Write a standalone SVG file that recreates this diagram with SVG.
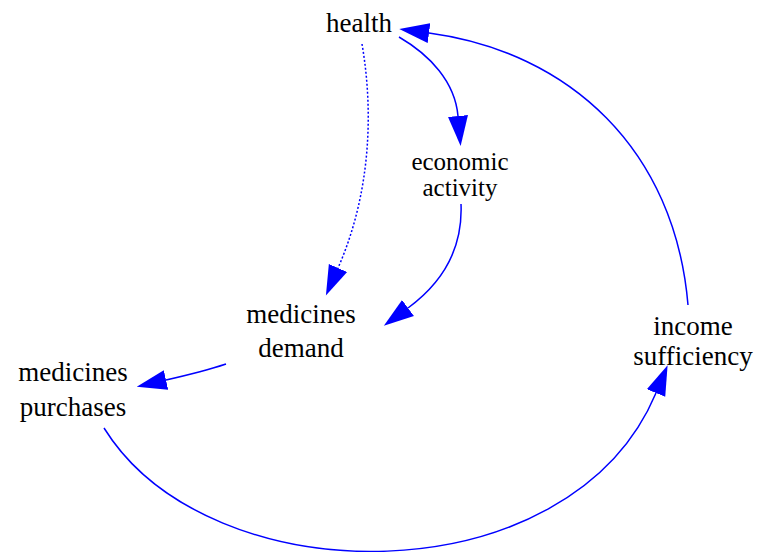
<svg xmlns="http://www.w3.org/2000/svg" width="759" height="552" viewBox="0 0 759 552">
<style>
.t text{font-size:27px;fill:#000;text-anchor:middle}
.t .s{font-size:25px}
.e{fill:none;stroke:#0000ff;stroke-width:1.5}
.d{stroke-dasharray:2,2}
</style>
<defs>
<marker id="a" markerUnits="userSpaceOnUse" markerWidth="32" markerHeight="22" viewBox="0 -11 32 22" refX="0" refY="0" orient="auto">
<path d="M0,-10 L30,0 L0,10 z" fill="#0000ff"/>
</marker>
</defs>
<g id="connectors">
<path class="e" d="M399,37 C430,55 455,82 458,116" marker-end="url(#a)"/>
<path class="e" d="M461,204 C463,250 442,283 408,308" marker-end="url(#a)"/>
<path class="e d" d="M362,44 C375,120 368,200 338,268" marker-end="url(#a)"/>
<path class="e" d="M226,364 C205,371 188,375 166,380" marker-end="url(#a)"/>
<path class="e" d="M104,428 C210,598 570,598 656,393" marker-end="url(#a)"/>
<path class="e" d="M688,305 C675,150 570,52 429,33" marker-end="url(#a)"/>
</g>
<g class="t" font-family="Liberation Serif, DejaVu Serif, serif">
<g id="health"><text x="359" y="32">health</text></g>
<g id="economic_activity"><text class="s" x="460" y="170">economic</text><text class="s" x="460" y="196">activity</text></g>
<g id="medicines_demand"><text x="301" y="323">medicines</text><text x="301" y="357">demand</text></g>
<g id="medicines_purchases"><text x="73" y="381">medicines</text><text x="73" y="416">purchases</text></g>
<g id="income_sufficiency"><text x="693" y="335">income</text><text x="693" y="365">sufficiency</text></g>
</g>
</svg>
